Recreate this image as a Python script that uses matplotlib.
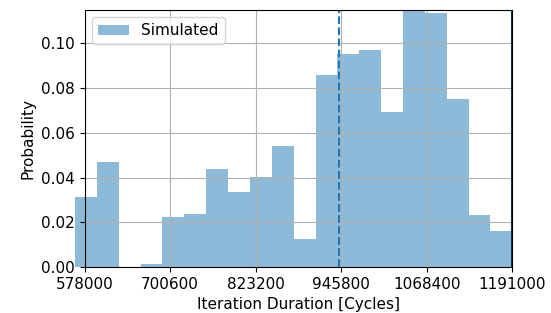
import numpy as np
import matplotlib
matplotlib.use("Agg")
import matplotlib.pyplot as plt

# histogram (20 bins, probability per bin)
bin_inicio = 564400
bin_fin = 1191000
probabilidad = [0.0314, 0.0471, 0.0, 0.0013, 0.0224, 0.0238, 0.0439, 0.0336, 0.0402, 0.0543,
                0.0126, 0.0861, 0.0955, 0.0969, 0.0695, 0.1152, 0.1135, 0.0753, 0.0233, 0.0163]
ticks_x = [578000, 700600, 823200, 945800, 1068400, 1191000]
linea_media = 943100
etiqueta = "Simulated"

n = len(probabilidad)
bordes = np.linspace(bin_inicio, bin_fin, n + 1)
ancho = bordes[1] - bordes[0]

fig = plt.figure(figsize=(5.51, 3.13), dpi=100)
ax1 = fig.add_axes([0.1534, 0.147, 0.7764, 0.8226])

ax1.bar(bordes[:-1], probabilidad, width=ancho, align="edge", color="C0", alpha=0.5,
        label=etiqueta, clip_on=False)
ax1.axvline(linea_media, color="C0", linestyle="--", linewidth=1.5)
ax1.axvline(ticks_x[-1], color="#0d3350", linewidth=1.5)

ax1.set_xlim(ticks_x[0], ticks_x[-1])
ax1.set_ylim(0, max(probabilidad))
ax1.set_xticks(ticks_x)
ax1.set_xticklabels([str(t) for t in ticks_x])
ax1.grid(True)

ax1.tick_params(labelsize=11)
ax1.set_xlabel("Iteration Duration [Cycles]", fontsize=11)
ax1.set_ylabel("Probability", fontsize=11)
ax1.legend(loc="upper left", fontsize=11)

fig.savefig("out.png", dpi=100)
